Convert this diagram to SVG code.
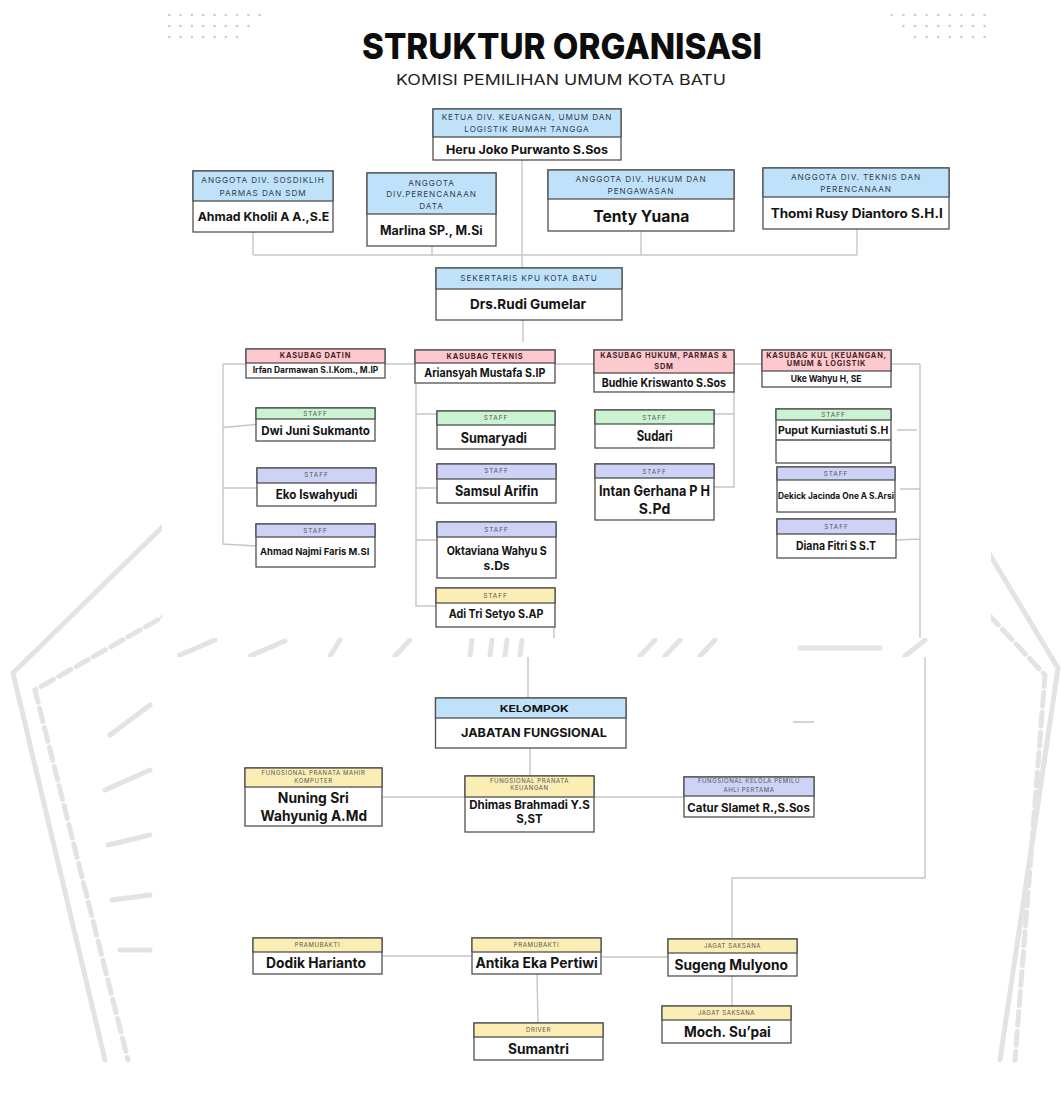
<svg xmlns="http://www.w3.org/2000/svg" width="1061" height="1095" viewBox="0 0 1061 1095">
<style>
.bx{fill:#fff;stroke:#505050;stroke-width:1.3}
.hb{fill:#bfe2fa;stroke:#505050;stroke-width:1.3}
.hp{fill:#fcc9cf;stroke:#505050;stroke-width:1.3}
.hg{fill:#caf3d1;stroke:#505050;stroke-width:1.3}
.hl{fill:#cfd2f7;stroke:#505050;stroke-width:1.3}
.hy{fill:#fbeeb4;stroke:#505050;stroke-width:1.3}
.cn{fill:none;stroke:#c6c6c6;stroke-width:1.4}
.wm{fill:none;stroke:#e3e3e3;stroke-width:5;stroke-linecap:round}
.nm{font-family:Inter,"Liberation Sans",sans-serif;font-weight:700;fill:#141414}
.th{font-family:Inter,"Liberation Sans",sans-serif;font-size:8.2px;letter-spacing:0.9px;fill:#34404c;text-anchor:middle}
.tk{font-family:Inter,"Liberation Sans",sans-serif;font-size:7.4px;font-weight:700;letter-spacing:0.8px;fill:#4a1f28;text-anchor:middle}
.ts{font-family:Inter,"Liberation Sans",sans-serif;font-size:6.4px;letter-spacing:1px;fill:#555;text-anchor:middle}
.tf{font-family:Inter,"Liberation Sans",sans-serif;font-size:6px;letter-spacing:0.6px;fill:#555;text-anchor:middle}
.dot{fill:#cccccc}
</style>

<!-- background watermark -->
<rect width="1061" height="1095" fill="#fff"/>
<g id="watermark">
  <path class="wm" d="M190 500 L13 673 L105 1060"/>
  <path class="wm" d="M175 610 L35 690 L128 1060" stroke-dasharray="14 6" stroke-width="3.5"/>
  <path class="wm" d="M975 530 L1058 668 L1000 1060"/>
  <path class="wm" d="M975 600 L1045 675 L1015 1060" stroke-dasharray="14 6" stroke-width="3.5"/>
  <path class="wm" d="M110 735 L150 705 M105 790 L150 770 M108 845 L150 835 M112 900 L150 895 M120 950 L150 950" stroke-width="6"/>
  <path class="wm" d="M180 655 L215 640 M250 656 L285 641 M330 656 L340 640 M395 656 L410 640 M470 656 L472 640 M490 656 L492 640 M505 656 L507 640 M520 656 L522 640 M640 656 L655 640 M665 656 L680 640 M700 656 L715 640 M800 648 L880 648 M905 656 L925 640" stroke-width="7"/>
</g>
<rect x="162" y="0" width="829" height="638" fill="#fff"/>
<rect x="157" y="657" width="834" height="438" fill="#fff"/>

<!-- decorative dots -->
<g id="dots">
  <g class="dot">
    <circle cx="169.3" cy="15" r="1.3"/><circle cx="180.6" cy="15" r="1.3"/><circle cx="191.9" cy="15" r="1.3"/><circle cx="203.2" cy="15" r="1.3"/><circle cx="214.5" cy="15" r="1.3"/><circle cx="225.8" cy="15" r="1.3"/><circle cx="237.1" cy="15" r="1.3"/><circle cx="248.4" cy="15" r="1.3"/><circle cx="259.7" cy="15" r="1.3"/>
    <circle cx="169.3" cy="26" r="1.3"/><circle cx="180.6" cy="26" r="1.3"/><circle cx="191.9" cy="26" r="1.3"/><circle cx="203.2" cy="26" r="1.3"/><circle cx="214.5" cy="26" r="1.3"/><circle cx="225.8" cy="26" r="1.3"/><circle cx="237.1" cy="26" r="1.3"/><circle cx="248.4" cy="26" r="1.3"/>
    <circle cx="169.3" cy="37" r="1.3"/><circle cx="180.6" cy="37" r="1.3"/><circle cx="191.9" cy="37" r="1.3"/><circle cx="203.2" cy="37" r="1.3"/><circle cx="214.5" cy="37" r="1.3"/><circle cx="225.8" cy="37" r="1.3"/><circle cx="237.1" cy="37" r="1.3"/>
    <circle cx="891.8" cy="15" r="1.3"/><circle cx="903.4" cy="15" r="1.3"/><circle cx="915" cy="15" r="1.3"/><circle cx="926.6" cy="15" r="1.3"/><circle cx="938.2" cy="15" r="1.3"/><circle cx="949.8" cy="15" r="1.3"/><circle cx="961.4" cy="15" r="1.3"/><circle cx="973" cy="15" r="1.3"/><circle cx="984.6" cy="15" r="1.3"/>
    <circle cx="903.4" cy="26" r="1.3"/><circle cx="915" cy="26" r="1.3"/><circle cx="926.6" cy="26" r="1.3"/><circle cx="938.2" cy="26" r="1.3"/><circle cx="949.8" cy="26" r="1.3"/><circle cx="961.4" cy="26" r="1.3"/><circle cx="973" cy="26" r="1.3"/><circle cx="984.6" cy="26" r="1.3"/>
    <circle cx="915" cy="37" r="1.3"/><circle cx="926.6" cy="37" r="1.3"/><circle cx="938.2" cy="37" r="1.3"/><circle cx="949.8" cy="37" r="1.3"/><circle cx="961.4" cy="37" r="1.3"/><circle cx="973" cy="37" r="1.3"/><circle cx="984.6" cy="37" r="1.3"/>
  </g>
</g>

<!-- title -->
<g id="title">
  <text x="362" y="59" font-family="Inter,'Liberation Sans',sans-serif" font-weight="800" font-size="36" fill="#0d0d0d" textLength="400" lengthAdjust="spacingAndGlyphs">STRUKTUR ORGANISASI</text>
  <text x="396" y="85" font-family="Inter,'Liberation Sans',sans-serif" font-size="14" fill="#222" textLength="330" lengthAdjust="spacingAndGlyphs">KOMISI PEMILIHAN UMUM KOTA BATU</text>
</g>

<!-- connectors -->
<g id="connectors">
  <path class="cn" d="M253 232 V255 M432 246 V255 M641 231 V255 M857 229 V255 M253 255 H857"/>
  <path class="cn" d="M522 160 V268"/>
  <path class="cn" d="M523 320 V342"/>
  <path class="cn" d="M223 364 H920"/>
  <path class="cn" d="M223 364 V544 L257 546 M223 427.5 L256 424.5 M223 488 H257"/>
  <path class="cn" d="M416 383 V606 H436 M416 414 H437 M416 488 H437 M416 540 H437"/>
  <path class="cn" d="M554 627 V638"/>
  <path class="cn" d="M734 364 V487 H714 M714 414 H734"/>
  <path class="cn" d="M920 364 V638 M897 430 H917 M900 489 H920 M896 540 L920 539"/>
  <path class="cn" d="M528 657 V698 M530 748 V776 M382 797 H465 M594 797 H684 M793 722 H814"/>
  <path class="cn" d="M925 657 V878 H732 V939 M732 976 V1006 M382 956 H472 M600 957 H668 M537 974 L538 1023"/>
</g>

<!-- top level -->
<g id="ketua">
  <rect class="bx" x="433" y="109" width="188" height="51"/>
  <rect class="hb" x="433" y="109" width="188" height="28"/>
  <text class="th" x="527" y="120.3">KETUA DIV. KEUANGAN, UMUM DAN</text>
  <text class="th" x="527" y="132">LOGISTIK RUMAH TANGGA</text>
  <text class="nm" x="446" y="153.5" font-size="12.3" textLength="162" lengthAdjust="spacingAndGlyphs">Heru Joko Purwanto S.Sos</text>
</g>
<g id="sosdiklih">
  <rect class="bx" x="193" y="171" width="140" height="61"/>
  <rect class="hb" x="193" y="171" width="140" height="30"/>
  <text class="th" x="263" y="183">ANGGOTA DIV. SOSDIKLIH</text>
  <text class="th" x="263" y="195.7">PARMAS DAN SDM</text>
  <text class="nm" x="197.7" y="221" font-size="12.3" textLength="131.6" lengthAdjust="spacingAndGlyphs">Ahmad Kholil A A.,S.E</text>
</g>
<g id="perencanaan">
  <rect class="bx" x="367" y="173" width="129" height="73"/>
  <rect class="hb" x="367" y="173" width="129" height="41"/>
  <text class="th" x="431.5" y="185.7">ANGGOTA</text>
  <text class="th" x="431.5" y="197.3">DIV.PERENCANAAN</text>
  <text class="th" x="431.5" y="209">DATA</text>
  <text class="nm" x="380" y="234.5" font-size="12.5" textLength="102.7" lengthAdjust="spacingAndGlyphs">Marlina SP., M.Si</text>
</g>
<g id="hukum">
  <rect class="bx" x="548" y="170" width="186" height="61"/>
  <rect class="hb" x="548" y="170" width="186" height="29"/>
  <text class="th" x="641" y="182.3">ANGGOTA DIV. HUKUM DAN</text>
  <text class="th" x="641" y="193.7">PENGAWASAN</text>
  <text class="nm" x="593.3" y="221.6" font-size="15.5" textLength="96" lengthAdjust="spacingAndGlyphs">Tenty Yuana</text>
</g>
<g id="teknis">
  <rect class="bx" x="763" y="168" width="186" height="61"/>
  <rect class="hb" x="763" y="168" width="186" height="29"/>
  <text class="th" x="856" y="179.7">ANGGOTA DIV. TEKNIS DAN</text>
  <text class="th" x="856" y="191.7">PERENCANAAN</text>
  <text class="nm" x="770.7" y="217.8" font-size="12.8" textLength="172" lengthAdjust="spacingAndGlyphs">Thomi Rusy Diantoro S.H.I</text>
</g>
<g id="sekretaris">
  <rect class="bx" x="436" y="268" width="186" height="52"/>
  <rect class="hb" x="436" y="268" width="186" height="21"/>
  <text class="th" x="529" y="281.3">SEKERTARIS KPU KOTA BATU</text>
  <text class="nm" x="470" y="309.3" font-size="13.5" textLength="116" lengthAdjust="spacingAndGlyphs">Drs.Rudi Gumelar</text>
</g>

<!-- kasubag -->
<g id="kasubag-datin">
  <rect class="bx" x="246" y="349" width="139" height="29"/>
  <rect class="hp" x="246" y="349" width="139" height="14"/>
  <text class="tk" x="315.5" y="357.7">KASUBAG DATIN</text>
  <text class="nm" x="252.7" y="373.2" font-size="8.6" textLength="125.6" lengthAdjust="spacingAndGlyphs">Irfan Darmawan S.I.Kom., M.IP</text>
</g>
<g id="kasubag-teknis">
  <rect class="bx" x="415" y="350" width="140" height="33"/>
  <rect class="hp" x="415" y="350" width="140" height="13"/>
  <text class="tk" x="485" y="359">KASUBAG TEKNIS</text>
  <text class="nm" x="424.3" y="376.6" font-size="12" textLength="121" lengthAdjust="spacingAndGlyphs">Ariansyah Mustafa S.IP</text>
</g>
<g id="kasubag-hukum">
  <rect class="bx" x="594" y="350" width="140" height="42"/>
  <rect class="hp" x="594" y="350" width="140" height="23"/>
  <text class="tk" x="664" y="358.4">KASUBAG HUKUM, PARMAS &amp;</text>
  <text class="tk" x="664" y="368.7">SDM</text>
  <text class="nm" x="601.7" y="386.6" font-size="12" textLength="124.3" lengthAdjust="spacingAndGlyphs">Budhie Kriswanto S.Sos</text>
</g>
<g id="kasubag-kul">
  <rect class="bx" x="762" y="350" width="129" height="37"/>
  <rect class="hp" x="762" y="350" width="129" height="21"/>
  <text class="tk" x="826.5" y="357.8" font-size="6.8">KASUBAG KUL (KEUANGAN,</text>
  <text class="tk" x="826.5" y="366.2" font-size="6.8">UMUM &amp; LOGISTIK</text>
  <text class="nm" x="790.7" y="382" font-size="9.3" textLength="70.7" lengthAdjust="spacingAndGlyphs">Uke Wahyu H, SE</text>
</g>

<!-- staff datin -->
<g id="staff-dwi">
  <rect class="bx" x="256" y="408" width="119" height="33"/>
  <rect class="hg" x="256" y="408" width="119" height="11"/>
  <text class="ts" x="315.5" y="416.3">STAFF</text>
  <text class="nm" x="261.3" y="435" font-size="12" textLength="108.7" lengthAdjust="spacingAndGlyphs">Dwi Juni Sukmanto</text>
</g>
<g id="staff-eko">
  <rect class="bx" x="257" y="468" width="119" height="38"/>
  <rect class="hl" x="257" y="468" width="119" height="15"/>
  <text class="ts" x="316.5" y="477.3">STAFF</text>
  <text class="nm" x="275.7" y="498.8" font-size="12.5" textLength="81.7" lengthAdjust="spacingAndGlyphs">Eko Iswahyudi</text>
</g>
<g id="staff-najmi">
  <rect class="bx" x="256" y="524" width="119" height="43"/>
  <rect class="hl" x="256" y="524" width="119" height="13"/>
  <text class="ts" x="315.5" y="532.9">STAFF</text>
  <text class="nm" x="260" y="555" font-size="9.3" textLength="109.3" lengthAdjust="spacingAndGlyphs">Ahmad Najmi Faris M.SI</text>
</g>

<!-- staff teknis -->
<g id="staff-sumaryadi">
  <rect class="bx" x="437" y="411" width="118" height="38"/>
  <rect class="hg" x="437" y="411" width="118" height="14"/>
  <text class="ts" x="496" y="420">STAFF</text>
  <text class="nm" x="460.7" y="442.7" font-size="14" textLength="66.3" lengthAdjust="spacingAndGlyphs">Sumaryadi</text>
</g>
<g id="staff-samsul">
  <rect class="bx" x="437" y="464" width="119" height="39"/>
  <rect class="hl" x="437" y="464" width="119" height="15"/>
  <text class="ts" x="496.5" y="473.3">STAFF</text>
  <text class="nm" x="455" y="496" font-size="14" textLength="83.3" lengthAdjust="spacingAndGlyphs">Samsul Arifin</text>
</g>
<g id="staff-oktaviana">
  <rect class="bx" x="437" y="522" width="119" height="56"/>
  <rect class="hl" x="437" y="522" width="119" height="15"/>
  <text class="ts" x="496.5" y="532.3">STAFF</text>
  <text class="nm" x="446.7" y="555" font-size="12" textLength="100" lengthAdjust="spacingAndGlyphs">Oktaviana Wahyu S</text>
  <text class="nm" x="496.5" y="570" font-size="12" text-anchor="middle">s.Ds</text>
</g>
<g id="staff-adi">
  <rect class="bx" x="436" y="588" width="119" height="39"/>
  <rect class="hy" x="436" y="588" width="119" height="15"/>
  <text class="ts" x="495.5" y="598">STAFF</text>
  <text class="nm" x="448.7" y="618.4" font-size="11.5" textLength="94.7" lengthAdjust="spacingAndGlyphs">Adi Tri Setyo S.AP</text>
</g>

<!-- staff hukum -->
<g id="staff-sudari">
  <rect class="bx" x="595" y="410" width="119" height="38"/>
  <rect class="hg" x="595" y="410" width="119" height="14"/>
  <text class="ts" x="654.5" y="419.6">STAFF</text>
  <text class="nm" x="636.7" y="441" font-size="14" textLength="36" lengthAdjust="spacingAndGlyphs">Sudari</text>
</g>
<g id="staff-intan">
  <rect class="bx" x="595" y="464" width="119" height="56"/>
  <rect class="hl" x="595" y="464" width="119" height="14"/>
  <text class="ts" x="654.5" y="473.9">STAFF</text>
  <text class="nm" x="599" y="496" font-size="14" textLength="111" lengthAdjust="spacingAndGlyphs">Intan Gerhana P H</text>
  <text class="nm" x="654.5" y="514" font-size="14" text-anchor="middle">S.Pd</text>
</g>

<!-- staff kul -->
<g id="staff-puput">
  <rect class="bx" x="776" y="409" width="115" height="54"/>
  <rect class="hg" x="776" y="409" width="115" height="11"/>
  <line x1="776" y1="440" x2="891" y2="440" stroke="#505050" stroke-width="1.3"/>
  <text class="ts" x="833.5" y="416.6">STAFF</text>
  <text class="nm" x="778" y="434" font-size="11" textLength="110.3" lengthAdjust="spacingAndGlyphs">Puput Kurniastuti S.H</text>
</g>
<g id="staff-dekick">
  <rect class="bx" x="777" y="467" width="118" height="45"/>
  <rect class="hl" x="777" y="467" width="118" height="13"/>
  <text class="ts" x="836" y="476">STAFF</text>
  <text class="nm" x="778" y="498.8" font-size="8.6" textLength="116" lengthAdjust="spacingAndGlyphs">Dekick Jacinda One A S.Arsi</text>
</g>
<g id="staff-diana">
  <rect class="bx" x="777" y="519" width="119" height="39"/>
  <rect class="hl" x="777" y="519" width="119" height="15"/>
  <text class="ts" x="836.5" y="528.6">STAFF</text>
  <text class="nm" x="796" y="550" font-size="12" textLength="80" lengthAdjust="spacingAndGlyphs">Diana Fitri S S.T</text>
</g>

<!-- fungsional -->
<g id="kelompok">
  <rect class="bx" x="435.5" y="698" width="190.5" height="50"/>
  <rect class="hb" x="435.5" y="698" width="190.5" height="20"/>
  <text class="nm" x="499.8" y="711.6" font-size="9" textLength="69" lengthAdjust="spacingAndGlyphs" fill="#1d2630">KELOMPOK</text>
  <text class="nm" x="461" y="737" font-size="12" textLength="146" lengthAdjust="spacingAndGlyphs">JABATAN FUNGSIONAL</text>
</g>
<g id="fungsional-nuning">
  <rect class="bx" x="245" y="768" width="137" height="58"/>
  <rect class="hy" x="245" y="768" width="137" height="19"/>
  <text class="tf" x="313.5" y="774.8">FUNGSIONAL PRANATA MAHIR</text>
  <text class="tf" x="313.5" y="782.8">KOMPUTER</text>
  <text class="nm" x="277.8" y="803.3" font-size="14.5" textLength="71" lengthAdjust="spacingAndGlyphs">Nuning Sri</text>
  <text class="nm" x="260.6" y="821" font-size="14.5" textLength="106.4" lengthAdjust="spacingAndGlyphs">Wahyunig A.Md</text>
</g>
<g id="fungsional-dhimas">
  <rect class="bx" x="465" y="776" width="129" height="56"/>
  <rect class="hy" x="465" y="776" width="129" height="21"/>
  <text class="tf" x="529.5" y="782.8">FUNGSIONAL PRANATA</text>
  <text class="tf" x="529.5" y="790.4">KEUANGAN</text>
  <text class="nm" x="469.2" y="809" font-size="11.5" textLength="120.5" lengthAdjust="spacingAndGlyphs">Dhimas Brahmadi Y.S</text>
  <text class="nm" x="529.5" y="823" font-size="11.5" text-anchor="middle">S,ST</text>
</g>
<g id="fungsional-catur">
  <rect class="bx" x="684" y="777" width="130" height="40"/>
  <rect class="hl" x="684" y="777" width="130" height="19"/>
  <text class="tf" x="749" y="783.4">FUNGSIONAL KELOLA PEMILU</text>
  <text class="tf" x="749" y="792.1">AHLI PERTAMA</text>
  <text class="nm" x="687.3" y="812.4" font-size="11.5" textLength="122.5" lengthAdjust="spacingAndGlyphs">Catur Slamet R.,S.Sos</text>
</g>

<!-- pramubakti etc -->
<g id="pramubakti-dodik">
  <rect class="bx" x="253" y="938" width="129" height="36"/>
  <rect class="hy" x="253" y="938" width="129" height="14"/>
  <text class="tf" x="317.5" y="947.2">PRAMUBAKTI</text>
  <text class="nm" x="266" y="968.3" font-size="14" textLength="100" lengthAdjust="spacingAndGlyphs">Dodik Harianto</text>
</g>
<g id="pramubakti-antika">
  <rect class="bx" x="472" y="938" width="129" height="36"/>
  <rect class="hy" x="472" y="938" width="129" height="14"/>
  <text class="tf" x="536.5" y="947.2">PRAMUBAKTI</text>
  <text class="nm" x="475.4" y="968.3" font-size="14" textLength="122.4" lengthAdjust="spacingAndGlyphs">Antika Eka Pertiwi</text>
</g>
<g id="jagat-sugeng">
  <rect class="bx" x="668" y="939" width="129" height="37"/>
  <rect class="hy" x="668" y="939" width="129" height="14"/>
  <text class="tf" x="732.5" y="948">JAGAT SAKSANA</text>
  <text class="nm" x="674.4" y="970" font-size="14" textLength="113.6" lengthAdjust="spacingAndGlyphs">Sugeng Mulyono</text>
</g>
<g id="jagat-moch">
  <rect class="bx" x="662" y="1006" width="129" height="37"/>
  <rect class="hy" x="662" y="1006" width="129" height="14"/>
  <text class="tf" x="726.5" y="1015.2">JAGAT SAKSANA</text>
  <text class="nm" x="684" y="1037" font-size="14" textLength="86.8" lengthAdjust="spacingAndGlyphs">Moch. Su’pai</text>
</g>
<g id="driver-sumantri">
  <rect class="bx" x="474" y="1023" width="129" height="37"/>
  <rect class="hy" x="474" y="1023" width="129" height="14"/>
  <text class="tf" x="538.5" y="1032">DRIVER</text>
  <text class="nm" x="507.9" y="1053.7" font-size="14" textLength="61" lengthAdjust="spacingAndGlyphs">Sumantri</text>
</g>
</svg>
